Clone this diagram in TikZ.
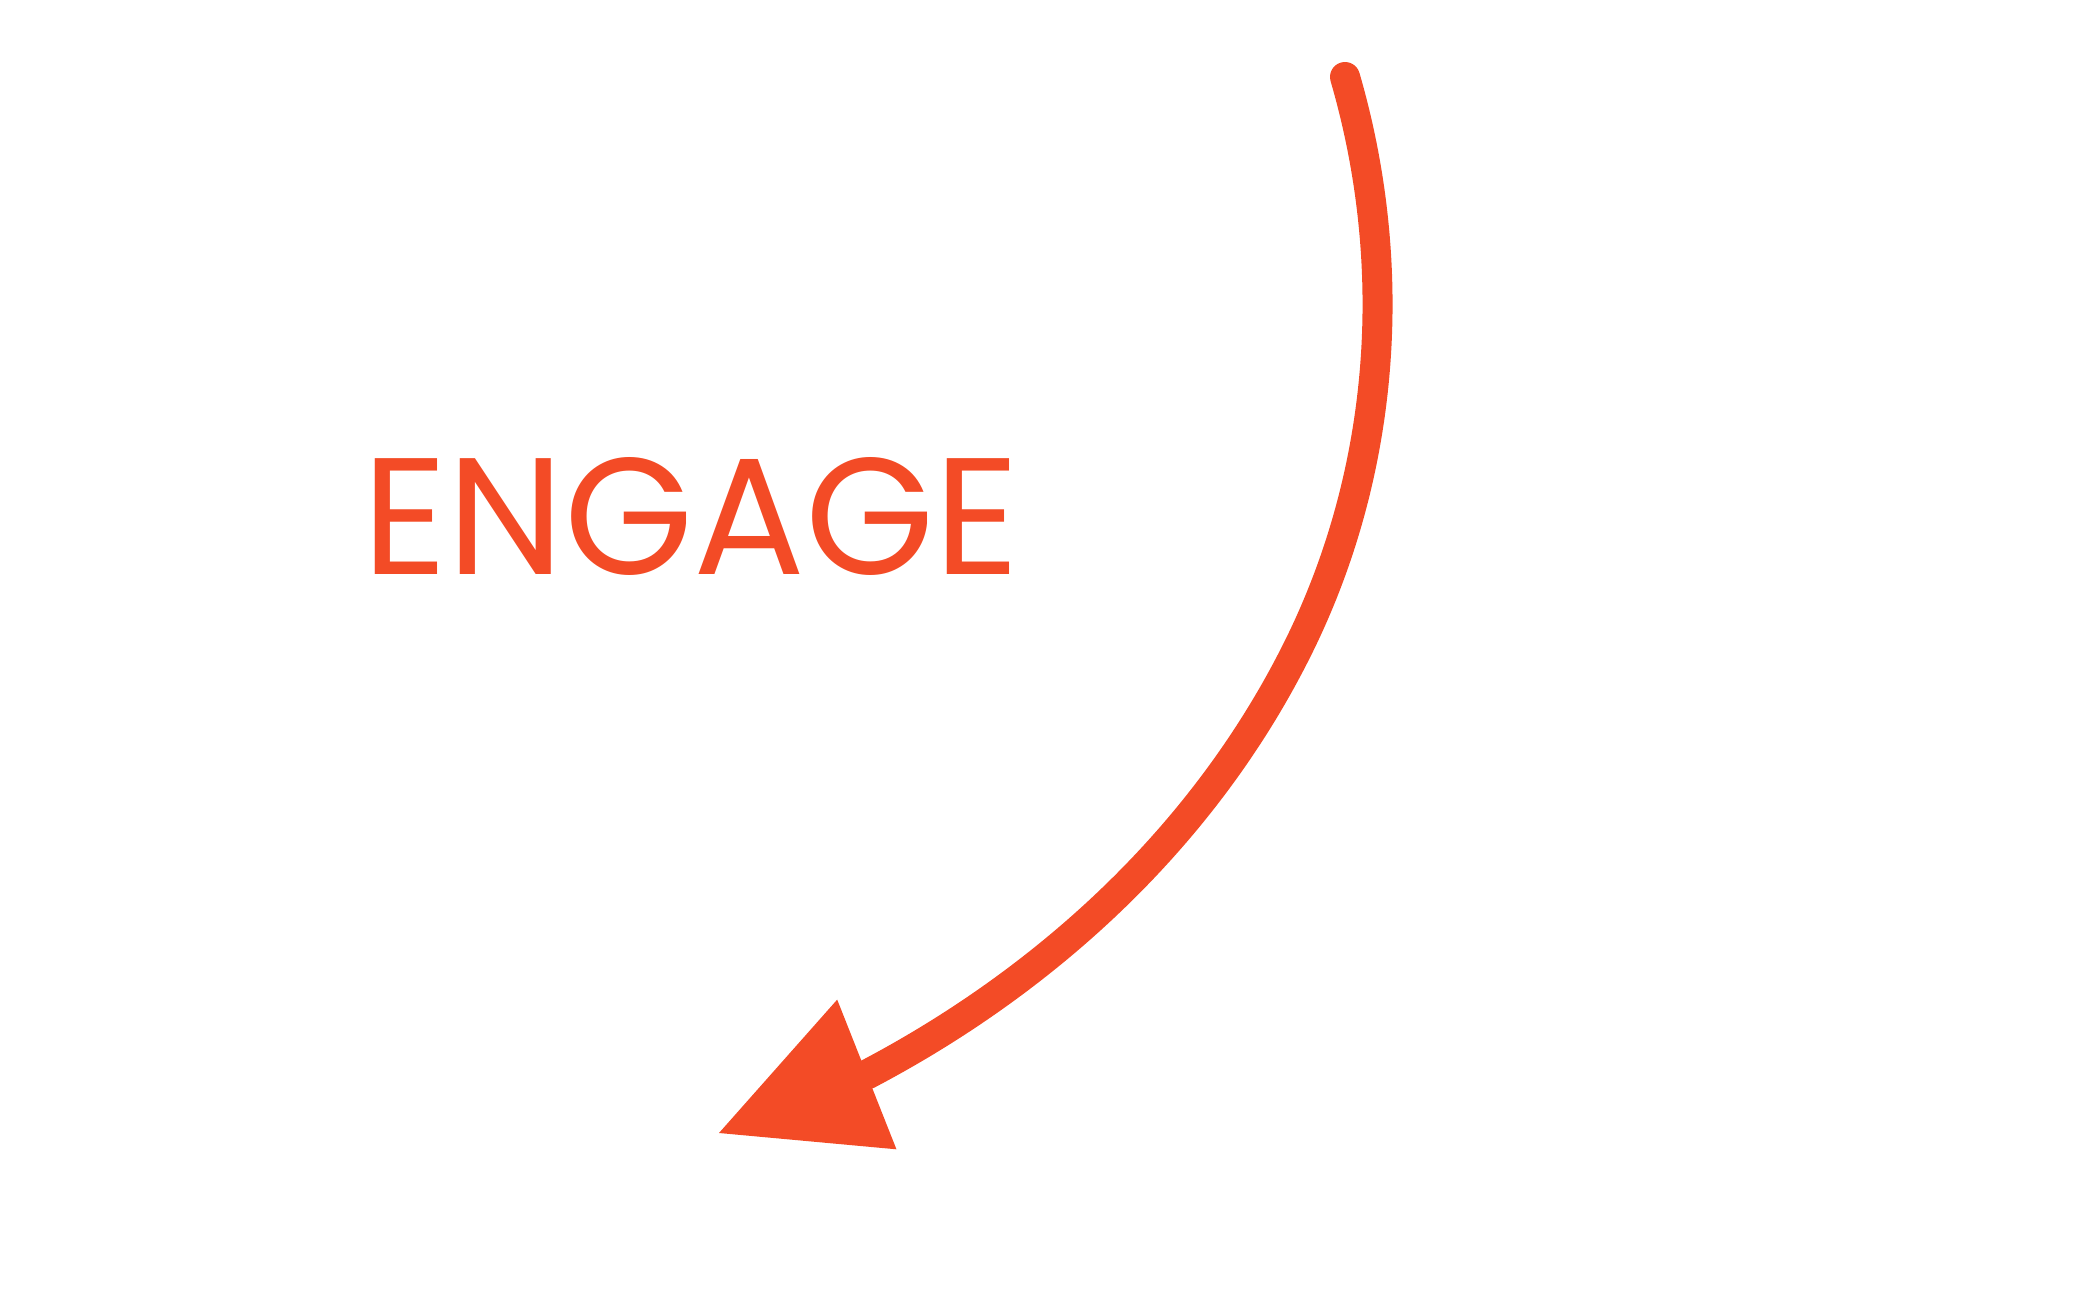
\documentclass[tikz,border=0pt]{standalone}
\usepackage{fontspec}
\setmainfont{Poppins}
\usepackage{tikz}
\usetikzlibrary{arrows.meta}
\definecolor{engageorange}{HTML}{F34B26}

\begin{document}
\begin{tikzpicture}[x=1pt,y=-1pt]
\useasboundingbox (0,0) rectangle (2094,1297);
\node [anchor=base west,inner sep=0pt,text=engageorange,font=\fontsize{166}{166}\selectfont] (engage) at (362,574) {ENGAGE};
\coordinate (arcstart) at (1345,77);
\coordinate (arcmid) at (1297,650);
\coordinate (arcbase) at (868,1074);
\coordinate (arctip) at (719,1133);
\draw [engageorange,line width=30pt,line cap=round,-{Triangle[length=159pt,width=161pt,line width=0pt]}]
(arcstart) .. controls (1400.4,267.1) and (1385.5,473) .. (arcmid)
.. controls (1205,834) and (1050.1,978.1) .. (arcbase) -- (arctip);
\end{tikzpicture}
\end{document}
